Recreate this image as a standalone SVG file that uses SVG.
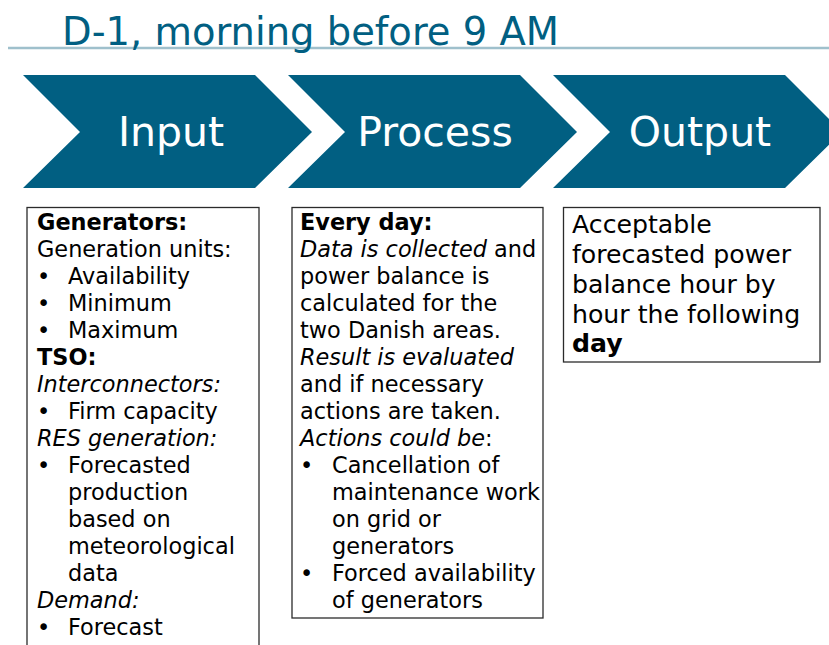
<svg xmlns="http://www.w3.org/2000/svg" width="829" height="645" viewBox="0 0 829 645">
<style>
.chev{fill:#015f82}
.lbl{font-family:"DejaVu Sans","Verdana",sans-serif;font-size:41px;fill:#ffffff;text-anchor:middle}
.box{fill:#ffffff;stroke:#2b2b2b;stroke-width:1.3}
.t{font-family:"DejaVu Sans","Verdana",sans-serif;font-size:22.4px;fill:#000000}
.o{font-family:"DejaVu Sans","Verdana",sans-serif;font-size:25.2px;fill:#000000}
.b{font-weight:bold}
.i{font-style:italic}
</style>
<rect x="0" y="0" width="829" height="645" fill="#ffffff"/>
<g id="title">
<line x1="8" y1="48" x2="829" y2="48" stroke="#9fc0cc" stroke-width="2.4"/>
<text x="62" y="45" font-family="DejaVu Sans, Verdana, sans-serif" font-size="38.5" fill="#015f82" textLength="497" lengthAdjust="spacingAndGlyphs">D-1, morning before 9 AM</text>
</g>
<g id="input-step">
<polygon class="chev" points="23,75 255,75 312,132 255,188 23,188 80,132"/>
<text class="lbl" x="171" y="146">Input</text>
</g>
<g id="process-step">
<polygon class="chev" points="288,75 520,75 577,132 520,188 288,188 345,132"/>
<text class="lbl" x="435" y="146">Process</text>
</g>
<g id="output-step">
<polygon class="chev" points="553,75 785,75 842,132 785,188 553,188 610,132"/>
<text class="lbl" x="700" y="146">Output</text>
</g>
<g id="input-box">
<rect class="box" x="27" y="207.5" width="232" height="450"/>
<g class="t">
<text x="37" y="229.5" class="b">Generators:</text>
<text x="37" y="256.5">Generation units:</text>
<text x="37" y="283.5">•</text><text x="68" y="283.5">Availability</text>
<text x="37" y="310.5">•</text><text x="68" y="310.5">Minimum</text>
<text x="37" y="337.5">•</text><text x="68" y="337.5">Maximum</text>
<text x="37" y="364.5" class="b">TSO:</text>
<text x="37" y="391.5" class="i">Interconnectors:</text>
<text x="37" y="418.5">•</text><text x="68" y="418.5">Firm capacity</text>
<text x="37" y="445.5" class="i">RES generation:</text>
<text x="37" y="472.5">•</text><text x="68" y="472.5">Forecasted</text>
<text x="68" y="499.5">production</text>
<text x="68" y="526.5">based on</text>
<text x="68" y="553.5">meteorological</text>
<text x="68" y="580.5">data</text>
<text x="37" y="607.5" class="i">Demand:</text>
<text x="37" y="634.5">•</text><text x="68" y="634.5">Forecast</text>
</g>
</g>
<g id="process-box">
<rect class="box" x="292" y="207.5" width="251" height="410.5"/>
<g class="t">
<text x="300" y="229.5" class="b">Every day:</text>
<text x="300" y="256.5"><tspan class="i">Data is collected</tspan> and</text>
<text x="300" y="283.5">power balance is</text>
<text x="300" y="310.5">calculated for the</text>
<text x="300" y="337.5">two Danish areas.</text>
<text x="300" y="364.5" class="i">Result is evaluated</text>
<text x="300" y="391.5">and if necessary</text>
<text x="300" y="418.5">actions are taken.</text>
<text x="300" y="445.5"><tspan class="i">Actions could be</tspan>:</text>
<text x="300" y="472.5">•</text><text x="332" y="472.5">Cancellation of</text>
<text x="332" y="499.5">maintenance work</text>
<text x="332" y="526.5">on grid or</text>
<text x="332" y="553.5">generators</text>
<text x="300" y="580.5">•</text><text x="332" y="580.5">Forced availability</text>
<text x="332" y="607.5">of generators</text>
</g>
</g>
<g id="output-box">
<rect class="box" x="563.5" y="207.5" width="256.5" height="154.5"/>
<g class="o">
<text x="572" y="233">Acceptable</text>
<text x="572" y="263">forecasted power</text>
<text x="572" y="293">balance hour by</text>
<text x="572" y="322.5">hour the following</text>
<text x="572" y="352" class="b">day</text>
</g>
</g>
<g id="connectors"/>
</svg>
